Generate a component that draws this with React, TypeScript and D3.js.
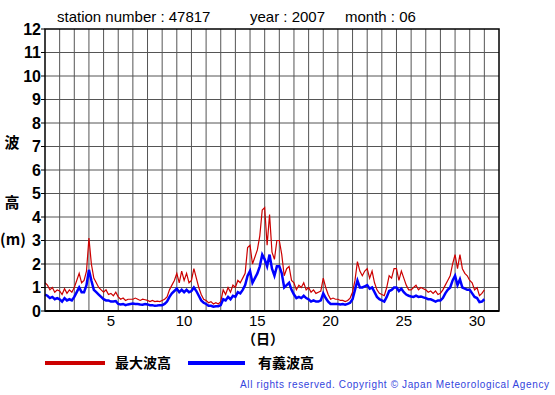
import React from 'react';
import * as d3 from 'd3';

// wave heights (m), 6 readings per day (every 4 hours), June 2007
const maxWave = [
  1.2, 1.1, 0.9, 1.0, 0.8, 0.9,
  0.85, 0.7, 0.95, 0.75, 0.9, 0.8,
  1.0, 1.3, 1.6, 1.2, 1.3, 1.7,
  3.1, 2.0, 1.4, 1.2, 1.0, 0.9,
  0.8, 0.9, 0.7, 0.75, 0.65, 0.8,
  0.6, 0.5, 0.55, 0.45, 0.5, 0.5,
  0.5, 0.55, 0.5, 0.45, 0.5, 0.48,
  0.45, 0.4, 0.45, 0.4, 0.42, 0.4,
  0.45, 0.5, 0.6, 0.9, 1.1, 1.3,
  1.6, 1.2, 1.7, 1.3, 1.6, 1.2,
  1.3, 1.8, 1.4, 1.0, 0.7, 0.5,
  0.45, 0.35, 0.4, 0.3, 0.35, 0.3,
  0.4, 0.9, 0.7, 1.0, 0.8, 1.1,
  1.0, 1.3, 1.2, 1.4, 1.6, 2.7,
  2.8, 2.0, 2.3, 2.6, 3.2, 4.3,
  4.4, 2.8, 4.1, 2.5, 2.2, 3.0,
  3.0, 2.4, 1.5, 1.8, 1.9, 1.3,
  1.2, 0.9, 1.1, 1.0, 1.2, 0.9,
  1.0, 0.8, 0.9, 0.75, 0.8, 0.85,
  1.4, 1.0, 0.7, 0.5, 0.55, 0.5,
  0.5, 0.45, 0.45, 0.4, 0.45, 0.55,
  0.8, 1.3, 2.1, 1.7, 1.5, 1.7,
  1.8, 1.4, 1.7, 1.2, 0.9, 0.75,
  0.7, 0.65, 1.0, 1.5, 1.4, 1.8,
  1.8, 1.3, 1.7, 1.4, 1.1, 0.9,
  0.9, 1.0, 1.1, 0.9, 1.0, 0.95,
  0.9, 0.8, 0.85, 0.75, 0.85, 0.7,
  0.75, 0.9, 1.1, 1.3, 1.5, 2.0,
  2.4, 1.8, 2.4, 1.8, 1.6, 1.5,
  1.3, 1.2, 0.9, 1.0, 0.65, 0.75, 0.9,
];

const sigWave = [
  0.7, 0.65, 0.55, 0.6, 0.5, 0.55,
  0.5, 0.4, 0.55, 0.45, 0.5, 0.45,
  0.6, 0.8, 1.0, 0.8, 0.8, 1.1,
  1.75, 1.3, 0.9, 0.8, 0.7, 0.6,
  0.5, 0.45, 0.45, 0.4, 0.4, 0.42,
  0.3, 0.28, 0.3, 0.25, 0.28, 0.3,
  0.32, 0.3, 0.3, 0.28, 0.27, 0.3,
  0.28, 0.25, 0.25, 0.22, 0.23, 0.25,
  0.25, 0.3, 0.4, 0.6, 0.75, 0.85,
  0.95, 0.8, 0.9, 0.8, 0.9, 0.8,
  0.85, 1.0, 0.85, 0.65, 0.45, 0.35,
  0.3, 0.22, 0.22, 0.18, 0.2, 0.2,
  0.25, 0.5, 0.45, 0.6, 0.5, 0.65,
  0.6, 0.8, 0.75, 0.9, 1.1, 1.5,
  1.7, 1.2, 1.4, 1.6, 1.9, 2.4,
  2.2, 1.9, 2.4, 1.8, 1.5, 1.9,
  1.9, 1.6, 1.0, 1.1, 1.2, 0.9,
  0.7, 0.55, 0.6, 0.55, 0.65, 0.55,
  0.5, 0.4, 0.45, 0.4, 0.4, 0.45,
  0.75, 0.55, 0.4, 0.3, 0.3, 0.3,
  0.3, 0.28, 0.3, 0.27, 0.3, 0.35,
  0.5, 0.9, 1.3, 1.0, 1.0, 1.05,
  1.1, 0.95, 1.0, 0.8, 0.6, 0.5,
  0.45, 0.4, 0.6, 0.85, 0.9, 1.0,
  1.0, 0.85, 0.95, 0.8, 0.7, 0.65,
  0.62, 0.6, 0.65, 0.6, 0.62, 0.58,
  0.55, 0.5, 0.5, 0.45, 0.4, 0.45,
  0.45, 0.55, 0.75, 0.9, 1.0, 1.3,
  1.5, 1.1, 1.35, 1.0, 0.95, 0.9,
  0.9, 0.75, 0.6, 0.55, 0.38, 0.4, 0.5,
];

const dayLabels = [5, 10, 15, 20, 25, 30];
const yTicks = d3.range(0, 13);
const perDay = 6;

const font = '"Liberation Sans", Arial, sans-serif';
const cjk = '"Noto Sans CJK JP", sans-serif';

export default function App() {
  const x = d3.scaleLinear().domain([0, 31]).range([45, 499]);
  const y = d3.scaleLinear().domain([0, 12]).range([311, 29]);

  const line = d3.line<number>()
    .x((d, i) => x(i / perDay))
    .y(d => y(d));

  const gridX = d3.range(1, 31);

  return (
    <div style={{ position: 'fixed', left: 0, top: 0 }}>
      <svg width={555} height={395} style={{ display: 'block', background: '#fff' }} fontFamily={font}>
        {/* title */}
        <text x={57} y={22} fontSize={15} fill="#000">station number : 47817</text>
        <text x={250} y={22} fontSize={15} fill="#000">year : 2007</text>
        <text x={345} y={22} fontSize={15} fill="#000">month : 06</text>

        {/* grid */}
        {gridX.map(d => (
          <line key={'gx' + d} x1={x(d)} x2={x(d)} y1={y(12)} y2={y(0)} stroke="#555" strokeWidth={1} />
        ))}
        {yTicks.slice(1, 12).map(v => (
          <line key={'gy' + v} x1={x(0)} x2={x(31)} y1={y(v)} y2={y(v)} stroke="#555" strokeWidth={1} />
        ))}

        {/* series */}
        <path d={line(maxWave) || ''} fill="none" stroke="#cc0000" strokeWidth={1.2} />
        <path d={line(sigWave) || ''} fill="none" stroke="#0000ff" strokeWidth={2.5} />

        {/* frame */}
        <rect x={x(0)} y={y(12)} width={x(31) - x(0)} height={y(0) - y(12)} fill="none" stroke="#000" strokeWidth={1.5} />
        <line x1={x(0)} x2={x(31)} y1={y(0)} y2={y(0)} stroke="#000" strokeWidth={2} />

        {/* y ticks */}
        {yTicks.map(v => (
          <g key={'yt' + v}>
            <line x1={x(0) - 4} x2={x(0)} y1={y(v)} y2={y(v)} stroke="#000" />
            <text x={41} y={y(v)} dy="0.36em" textAnchor="end" fontSize={16} fontWeight="bold">{v}</text>
          </g>
        ))}

        {/* x labels */}
        {dayLabels.map(d => (
          <text key={'xl' + d} x={x(d - 0.5)} y={326} textAnchor="middle" fontSize={15}>{d}</text>
        ))}
        <text x={263} y={344} textAnchor="middle" fontSize={14} fontWeight="bold" fontFamily={cjk}>（日）</text>

        {/* y title */}
        <g fontFamily={cjk} fontWeight="bold" fontSize={15}>
          <text x={12} y={143} dy="0.36em" textAnchor="middle">波</text>
          <text x={12} y={203} dy="0.36em" textAnchor="middle">高</text>
          <text x={13} y={240} dy="0.36em" textAnchor="middle">(m)</text>
        </g>

        {/* legend */}
        <line x1={45} x2={105} y1={363} y2={363} stroke="#cc0000" strokeWidth={4} />
        <text x={115} y={368} fontSize={14} fontWeight="bold" fontFamily={cjk}>最大波高</text>
        <line x1={188} x2={245} y1={363} y2={363} stroke="#0000ff" strokeWidth={4} />
        <text x={258} y={368} fontSize={14} fontWeight="bold" fontFamily={cjk}>有義波高</text>

        {/* credit */}
        <text x={240} y={388} fontSize={10} fill="#3344dd" textLength={309} lengthAdjust="spacing">
          All rights reserved. Copyright © Japan Meteorological Agency
        </text>
      </svg>
    </div>
  );
}
